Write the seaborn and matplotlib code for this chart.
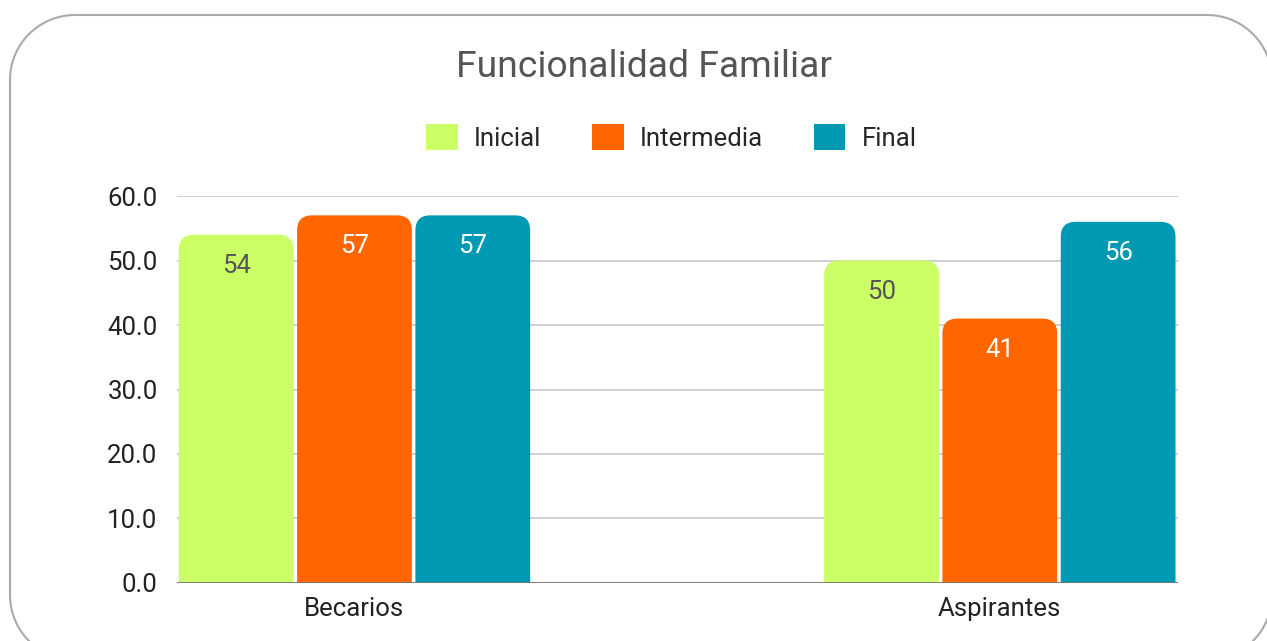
import matplotlib
matplotlib.use("Agg")
import matplotlib.pyplot as plt
import seaborn as sns
import pandas as pd
import numpy as np
from matplotlib.path import Path
from matplotlib.patches import PathPatch, Patch

groups = ["Becarios", "Aspirantes"]
series = ["Inicial", "Intermedia", "Final"]
inicial = [54, 50]
intermedia = [57, 41]
final = [57, 56]
colors = ["#ccff66", "#ff6600", "#0099b3"]
label_colors = ["#555555", "white", "white"]

df = pd.DataFrame({
    "grupo": groups * 3,
    "serie": [s for s in series for _ in groups],
    "valor": inicial + intermedia + final,
})

sns.set_style("white")
plt.rcParams["font.family"] = ["Roboto", "DejaVu Sans"]

fig = plt.figure(figsize=(12.67, 6.41), dpi=100)

# background axes in pixel units for the rounded frame
bg = fig.add_axes([0, 0, 1, 1])
bg.set_xlim(0, 1267)
bg.set_ylim(0, 641)
bg.axis("off")
left, right, bottom, top, rad = 10, 1272, -19, 626, 65
fx, fy = [], []
for cx, cy, a0 in [(right - rad, top - rad, 0), (left + rad, top - rad, 90),
                   (left + rad, bottom + rad, 180), (right - rad, bottom + rad, 270)]:
    t = np.radians(np.linspace(a0, a0 + 90, 30))
    fx.extend(cx + rad * np.cos(t))
    fy.extend(cy + rad * np.sin(t))
fx.append(fx[0])
fy.append(fy[0])
bg.plot(fx, fy, color="#aaaaaa", linewidth=1.5)

ax = fig.add_axes([0.1397, 0.0905, 0.79, 0.6037])

sns.barplot(data=df, x="grupo", y="valor", hue="serie", hue_order=series,
            order=groups, palette=colors, width=0.55, gap=0.03,
            saturation=1, legend=False, ax=ax)

ax.set_xlim(-0.275, 1.276)
ax.set_ylim(0, 60)
ax.set_yticks(range(0, 61, 10))
ax.set_yticklabels([f"{v:.1f}" for v in range(0, 61, 10)])
ax.set_xlabel("")
ax.set_ylabel("")
ax.tick_params(axis="both", length=0, labelsize=18.5, colors="#222222")
ax.tick_params(axis="y", pad=14)
ax.tick_params(axis="x", pad=10)
for s in ax.spines.values():
    s.set_visible(False)
ax.yaxis.grid(True, color="#cccccc", linewidth=1.3)
ax.set_axisbelow(True)
ax.axhline(0, color="#777777", linewidth=1.3, zorder=3)

# rounded tops on the bars
r_px = 15
xmin, xmax = ax.get_xlim()
ymin, ymax = ax.get_ylim()
rx = r_px * (xmax - xmin) / ax.bbox.width
ry = r_px * (ymax - ymin) / ax.bbox.height
for container, lc in zip(ax.containers, label_colors):
    for bar in container:
        x, w, h = bar.get_x(), bar.get_width(), bar.get_height()
        verts = [(x, 0), (x, h - ry), (x, h), (x + rx, h), (x + w - rx, h),
                 (x + w, h), (x + w, h - ry), (x + w, 0), (x, 0)]
        codes = [Path.MOVETO, Path.LINETO, Path.CURVE3, Path.CURVE3, Path.LINETO,
                 Path.CURVE3, Path.CURVE3, Path.LINETO, Path.CLOSEPOLY]
        ax.add_patch(PathPatch(Path(verts, codes), facecolor=bar.get_facecolor(),
                               edgecolor="none", zorder=2))
        bar.set_visible(False)
    ax.bar_label(container, fmt="%d", padding=-31, color=lc, fontsize=18.5)

fig.text(0.5085, 0.895, "Funcionalidad Familiar", ha="center", va="center",
         fontsize=26.8, color="#555555")

handles = [Patch(facecolor=c, edgecolor="none", label=s) for c, s in zip(colors, series)]
fig.legend(handles=handles, loc="center", bbox_to_anchor=(0.53, 0.786), ncol=3,
           frameon=False, fontsize=18.5, handlelength=1.22, handleheight=1.22,
           handletextpad=0.64, columnspacing=1.98)

fig.savefig("out.png", dpi=100)
plt.close(fig)
